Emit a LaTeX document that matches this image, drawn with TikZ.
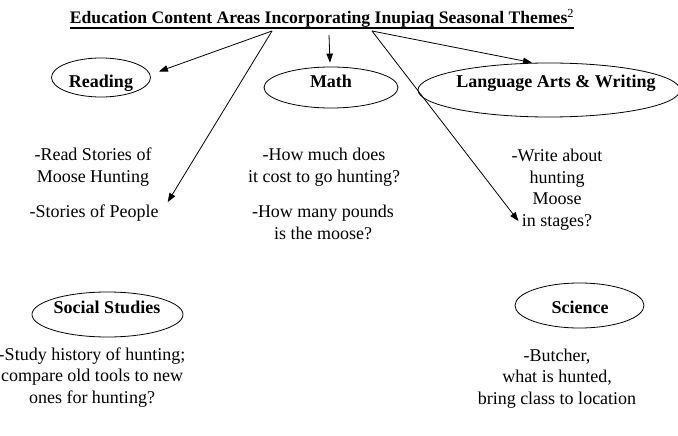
\documentclass[tikz,border=0pt]{standalone}
\usepackage{fontspec}
\setmainfont{Liberation Serif}
\usepackage{tikz}
\usetikzlibrary{arrows.meta,positioning,calc,shapes.geometric}

\begin{document}
\begin{tikzpicture}[x=1pt,y=-1pt,
  area/.style={ellipse,draw,line width=0.8pt,inner sep=0pt},
  lbl/.style={font=\fontsize{18}{21.5}\selectfont\bfseries,anchor=base,inner sep=0pt},
  note/.style={font=\fontsize{18}{21.5}\selectfont,align=center,anchor=base,inner sep=0pt},
  arr/.style={-{Triangle[length=9pt,width=6.5pt]},line width=0.8pt}]
  \useasboundingbox (0,0) rectangle (678,436);
  % title
  \node[lbl,font=\fontsize{17.6}{21}\selectfont\bfseries] (title) at (322,24) {Education Content Areas Incorporating Inupiaq Seasonal Themes\textsuperscript{\mdseries 2}};
  \draw[line width=1.1pt] ([yshift=-4pt]title.base west) -- ([yshift=-4pt]title.base east);
  \coordinate (tl) at (272,31);
  \coordinate (tm) at (329,35);
  \coordinate (tr) at (372,31);
  % subject ovals
  \node[area,minimum width=99,minimum height=39] (reading) at (101,77.5) {};
  \node[lbl] (readingLbl) at (101,87.7) {Reading};
  \node[area,minimum width=134,minimum height=41] (math) at (331,87.5) {};
  \node[lbl] (mathLbl) at (331,88) {Math};
  \node[area,minimum width=262,minimum height=54] (lang) at (549,90) {};
  \node[lbl] (langLbl) at (556,88) {Language Arts \& Writing};
  \node[area,minimum width=151,minimum height=45] (social) at (107.5,314.5) {};
  \node[lbl] (socialLbl) at (107,313) {Social Studies};
  \node[area,minimum width=129,minimum height=45] (science) at (579.5,305.5) {};
  \node[lbl] (scienceLbl) at (580,313) {Science};
  % notes (base = last line)
  \node[note] (readNote) at (93,182) {-Read Stories of\\Moose Hunting};
  \node[note] (people) at (94,217) {-Stories of People};
  \node[note] (costNote) at (324,182) {-How much does\\it cost to go hunting?};
  \node[note] (poundNote) at (323,239) {-How many pounds\\is the moose?};
  \node[note] (write) at (557,226) {-Write about\\hunting\\Moose\\in stages?};
  \node[note] (history) at (92,403) {-Study history of hunting;\\compare old tools to new\\ones for hunting?};
  \node[note] (butcher) at (557,404) {-Butcher,\\what is hunted,\\bring class to location};
  % arrows
  \draw[arr] (tl) -- ($(reading.east)+(8,-6)$);
  \draw[arr] (tl) -- ($(people.north east)+(9,-2)$);
  \draw[arr] (tm) -- ($(math.north)+(-1,-4)$);
  \draw[arr] (tr) -- ($(lang.north)+(-17,0)$);
  \draw[arr] (tr) -- ($(write.south west)+(7,-9)$);
\end{tikzpicture}
\end{document}
